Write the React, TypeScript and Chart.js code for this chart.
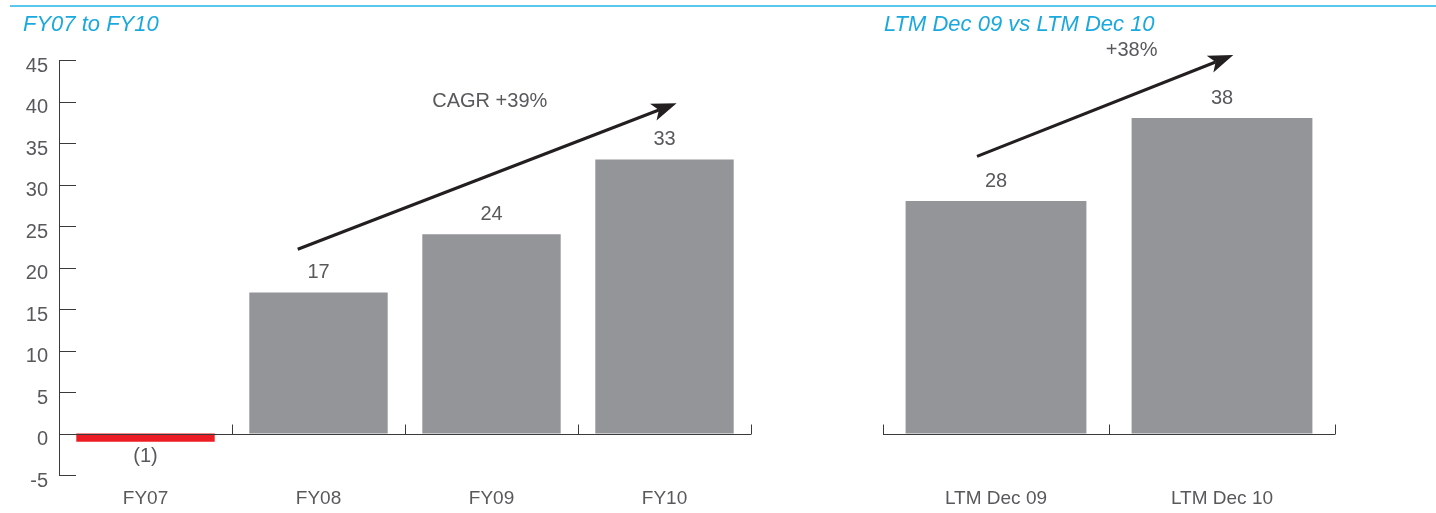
import { useEffect, useRef } from "react";
import { Chart, registerables } from "chart.js";

Chart.register(...registerables);

// ---- data ----
const fyCategories = ["FY07", "FY08", "FY09", "FY10"];
const fyValues = [-1, 17, 24, 33];
const fyValueLabels = ["(1)", "17", "24", "33"];

const ltmCategories = ["LTM Dec 09", "LTM Dec 10"];
const ltmValues = [28, 38];
const ltmValueLabels = ["28", "38"];

const yMin = -5;
const yMax = 45;
const yStep = 5;

// trend arrows, in (category index, value) space
const fyTrendFrom = [0.88, 22.2];
const fyTrendTo = [3.07, 39.8];
const fyTrendText = "CAGR +39%";
const fyTrendTextAt = [1.99, 40.0];

const ltmTrendFrom = [-0.084, 33.4];
const ltmTrendTo = [1.05, 45.6];
const ltmTrendText = "+38%";
const ltmTrendTextAt = [0.6, 46.2];

// ---- styles ----
const FONT = "'Liberation Sans', Arial, Helvetica, sans-serif";
const TEXT = "#58595b";
const AXIS = "#3a3a3a";
const BAR = "#939598";
const NEG = "#ed1c24";
const ARROW = "#231f20";
const CYAN_TEXT = "#1aa9de";
const CYAN_RULE = "#5cc7ec";

Chart.defaults.font.family = FONT;

type Trend = { from: number[]; to: number[]; text: string; textAt: number[] };

const decorPlugin = {
  id: "decor",
  afterDatasetsDraw(chart: any, _args: any, opts: any) {
    const { ctx, chartArea } = chart;
    const xs = chart.scales.x;
    const ys = chart.scales.y;
    const y0 = Math.round(ys.getPixelForValue(0)) + 0.5;

    ctx.save();
    ctx.strokeStyle = AXIS;
    ctx.lineWidth = 1;

    // zero baseline
    ctx.beginPath();
    ctx.moveTo(chartArea.left, y0);
    ctx.lineTo(chartArea.right, y0);
    ctx.stroke();

    // category boundary ticks pointing up
    const n = chart.data.labels.length;
    for (let i = 0; i <= n; i++) {
      const x = Math.round(xs.getPixelForValue(i - 0.5)) + 0.5;
      ctx.beginPath();
      ctx.moveTo(x, y0);
      ctx.lineTo(x, y0 - 10);
      ctx.stroke();
    }

    // inward y ticks
    if (opts.yTicks) {
      for (const t of ys.ticks) {
        const y = Math.round(ys.getPixelForValue(t.value)) + 0.5;
        ctx.beginPath();
        ctx.moveTo(chartArea.left, y);
        ctx.lineTo(chartArea.left + 17, y);
        ctx.stroke();
      }
    }

    // value labels
    const meta = chart.getDatasetMeta(0);
    const vals = chart.data.datasets[0].data;
    ctx.fillStyle = TEXT;
    ctx.font = `20px ${FONT}`;
    ctx.textAlign = "center";
    ctx.textBaseline = "middle";
    meta.data.forEach((el: any, i: number) => {
      const label = opts.valueLabels[i];
      if (vals[i] >= 0) ctx.fillText(label, el.x, el.y - 20);
      else ctx.fillText(label, el.x, el.y + 15);
    });

    // trend arrow
    const tr: Trend = opts.trend;
    const sx = xs.getPixelForValue(tr.from[0]);
    const sy = ys.getPixelForValue(tr.from[1]);
    const tx = xs.getPixelForValue(tr.to[0]);
    const ty = ys.getPixelForValue(tr.to[1]);
    const len = Math.hypot(tx - sx, ty - sy);
    const ux = (tx - sx) / len;
    const uy = (ty - sy) / len;
    const nx = -uy;
    const ny = ux;
    const L = 25;
    const W = 9;
    const notch = 6;
    ctx.strokeStyle = ARROW;
    ctx.fillStyle = ARROW;
    ctx.lineWidth = 3;
    ctx.beginPath();
    ctx.moveTo(sx, sy);
    ctx.lineTo(tx - (L - notch) * ux, ty - (L - notch) * uy);
    ctx.stroke();
    ctx.beginPath();
    ctx.moveTo(tx, ty);
    ctx.lineTo(tx - L * ux + W * nx, ty - L * uy + W * ny);
    ctx.lineTo(tx - (L - notch) * ux, ty - (L - notch) * uy);
    ctx.lineTo(tx - L * ux - W * nx, ty - L * uy - W * ny);
    ctx.closePath();
    ctx.fill();

    ctx.fillStyle = TEXT;
    ctx.font = `20px ${FONT}`;
    ctx.textAlign = "center";
    ctx.textBaseline = "middle";
    ctx.fillText(tr.text, xs.getPixelForValue(tr.textAt[0]), ys.getPixelForValue(tr.textAt[1]));
    ctx.restore();
  },
};

type PanelProps = {
  left: number;
  width: number;
  padLeft: number;
  padRight: number;
  categories: string[];
  values: number[];
  valueLabels: string[];
  showY: boolean;
  trend: Trend;
};

function BarPanel(p: PanelProps) {
  const ref = useRef<HTMLCanvasElement>(null);

  useEffect(() => {
    const yScale: any = {
      min: yMin,
      max: yMax,
      display: p.showY,
      grid: { display: false, drawTicks: false },
      border: { display: p.showY, color: AXIS, width: 1 },
      ticks: {
        stepSize: yStep,
        color: TEXT,
        font: { size: 20 },
        padding: 11,
        labelOffset: 6,
      },
    };
    if (p.showY) {
      yScale.afterFit = (s: any) => {
        s.width = 59;
      };
    }

    const chart = new Chart(ref.current!, {
      type: "bar",
      data: {
        labels: p.categories,
        datasets: [
          {
            data: p.values,
            backgroundColor: p.values.map((v) => (v < 0 ? NEG : BAR)),
            borderWidth: 0,
            categoryPercentage: 1,
            barPercentage: 0.8,
          },
        ],
      },
      options: {
        responsive: false,
        animation: false,
        devicePixelRatio: 1,
        layout: {
          padding: { left: p.padLeft, right: p.padRight, top: 60, bottom: 0 },
        },
        plugins: {
          legend: { display: false },
          tooltip: { enabled: false },
          title: { display: false },
          decor: { yTicks: p.showY, valueLabels: p.valueLabels, trend: p.trend },
        } as any,
        scales: {
          x: {
            grid: { display: false, drawTicks: false },
            border: { display: false },
            ticks: { color: TEXT, font: { size: 19 }, padding: 12 },
            afterFit: (s: any) => {
              s.height = 38;
            },
          },
          y: yScale,
        },
      },
      plugins: [decorPlugin],
    });
    return () => chart.destroy();
  }, []);

  return (
    <canvas
      ref={ref}
      width={p.width}
      height={513}
      style={{ position: "absolute", left: p.left, top: 0, width: p.width, height: 513 }}
    />
  );
}

export default function App() {
  return (
    <div
      style={{
        position: "fixed",
        left: 0,
        top: 0,
        width: 1436,
        height: 513,
        background: "#ffffff",
        overflow: "hidden",
        fontFamily: FONT,
      }}
    >
      <div
        style={{
          position: "absolute",
          left: 10,
          right: 0,
          top: 5,
          height: 2,
          background: CYAN_RULE,
        }}
      />
      <BarPanel
        left={0}
        width={780}
        padLeft={0}
        padRight={29}
        categories={fyCategories}
        values={fyValues}
        valueLabels={fyValueLabels}
        showY={true}
        trend={{ from: fyTrendFrom, to: fyTrendTo, text: fyTrendText, textAt: fyTrendTextAt }}
      />
      <BarPanel
        left={780}
        width={656}
        padLeft={103}
        padRight={101}
        categories={ltmCategories}
        values={ltmValues}
        valueLabels={ltmValueLabels}
        showY={false}
        trend={{ from: ltmTrendFrom, to: ltmTrendTo, text: ltmTrendText, textAt: ltmTrendTextAt }}
      />
      <div
        style={{
          position: "absolute",
          left: 23,
          top: 13,
          fontSize: 22,
          lineHeight: "22px",
          fontStyle: "italic",
          color: CYAN_TEXT,
          whiteSpace: "nowrap",
        }}
      >
        FY07 to FY10
      </div>
      <div
        style={{
          position: "absolute",
          left: 884,
          top: 13,
          fontSize: 22,
          lineHeight: "22px",
          fontStyle: "italic",
          color: CYAN_TEXT,
          whiteSpace: "nowrap",
        }}
      >
        LTM Dec 09 vs LTM Dec 10
      </div>
    </div>
  );
}
